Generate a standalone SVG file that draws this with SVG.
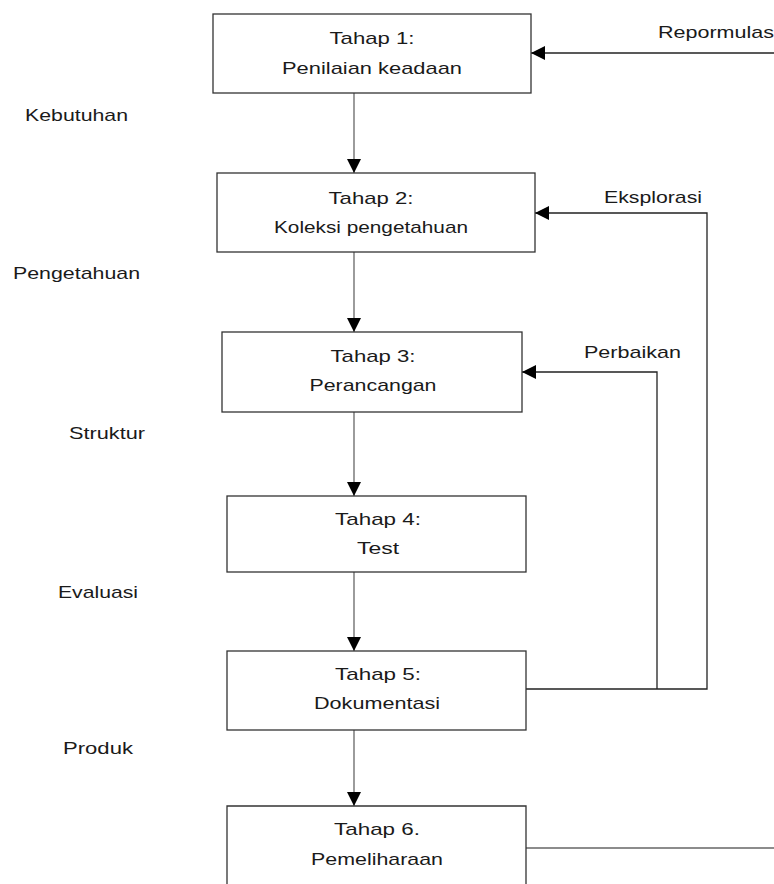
<svg xmlns="http://www.w3.org/2000/svg" width="774" height="884" viewBox="0 0 774 884">
<style>
.box{fill:#fff;stroke:#333;stroke-width:1.3}
.t{font-family:"Liberation Sans",Arial,sans-serif;font-size:17px;fill:#1a1a1a}
.m{text-anchor:middle}
.flow{fill:none;stroke:#666;stroke-width:1.3}
.fb{fill:none;stroke:#222;stroke-width:1.3}
</style>
<defs>
<marker id="ah" viewBox="0 0 14 14" refX="14" refY="7" markerWidth="14" markerHeight="14" markerUnits="userSpaceOnUse" orient="auto">
<path d="M0,0 L14,7 L0,14 Z" fill="#000"/>
</marker>
</defs>
<rect width="774" height="884" fill="#fff"/>
<g id="connectors">
<line class="flow" x1="354" y1="93" x2="354" y2="173" marker-end="url(#ah)"/>
<line class="flow" x1="354" y1="252" x2="354" y2="332" marker-end="url(#ah)"/>
<line class="flow" x1="354" y1="412" x2="354" y2="496" marker-end="url(#ah)"/>
<line class="flow" x1="354" y1="572" x2="354" y2="651" marker-end="url(#ah)"/>
<line class="flow" x1="354" y1="730" x2="354" y2="806" marker-end="url(#ah)"/>
<line class="fb" x1="774" y1="53" x2="531" y2="53" marker-end="url(#ah)"/>
<polyline class="fb" points="526,689 707,689 707,213 535,213" marker-end="url(#ah)"/>
<polyline class="fb" points="657,689 657,372 522,372" marker-end="url(#ah)"/>
<line class="flow" x1="526" y1="848" x2="774" y2="848"/>
</g>
<g id="node1">
<rect class="box" x="213" y="14" width="318" height="79"/>
<text class="t m" x="372" y="44" textLength="85" lengthAdjust="spacingAndGlyphs">Tahap 1:</text>
<text class="t m" x="372" y="74" textLength="180" lengthAdjust="spacingAndGlyphs">Penilaian keadaan</text>
</g>
<g id="node2">
<rect class="box" x="217" y="173" width="318" height="79"/>
<text class="t m" x="371" y="204" textLength="85" lengthAdjust="spacingAndGlyphs">Tahap 2:</text>
<text class="t m" x="371" y="233" textLength="194" lengthAdjust="spacingAndGlyphs">Koleksi pengetahuan</text>
</g>
<g id="node3">
<rect class="box" x="222" y="332" width="300" height="80"/>
<text class="t m" x="373" y="362" textLength="85" lengthAdjust="spacingAndGlyphs">Tahap 3:</text>
<text class="t m" x="373" y="391" textLength="127" lengthAdjust="spacingAndGlyphs">Perancangan</text>
</g>
<g id="node4">
<rect class="box" x="227" y="496" width="299" height="76"/>
<text class="t m" x="378" y="525" textLength="86" lengthAdjust="spacingAndGlyphs">Tahap 4:</text>
<text class="t m" x="378" y="554" textLength="42" lengthAdjust="spacingAndGlyphs">Test</text>
</g>
<g id="node5">
<rect class="box" x="227" y="651" width="299" height="79"/>
<text class="t m" x="378" y="680" textLength="86" lengthAdjust="spacingAndGlyphs">Tahap 5:</text>
<text class="t m" x="377" y="709" textLength="126" lengthAdjust="spacingAndGlyphs">Dokumentasi</text>
</g>
<g id="node6">
<path class="box" d="M227,884 L227,806 L526,806 L526,884"/>
<text class="t m" x="377" y="835" textLength="86" lengthAdjust="spacingAndGlyphs">Tahap 6.</text>
<text class="t m" x="377" y="865" textLength="132" lengthAdjust="spacingAndGlyphs">Pemeliharaan</text>
</g>
<g id="labels">
<text class="t" x="658" y="38" textLength="116" lengthAdjust="spacingAndGlyphs">Repormulas</text>
<text class="t" x="604" y="203" textLength="98" lengthAdjust="spacingAndGlyphs">Eksplorasi</text>
<text class="t" x="584" y="358" textLength="97" lengthAdjust="spacingAndGlyphs">Perbaikan</text>
<text class="t" x="25" y="121" textLength="103" lengthAdjust="spacingAndGlyphs">Kebutuhan</text>
<text class="t" x="13" y="279" textLength="127" lengthAdjust="spacingAndGlyphs">Pengetahuan</text>
<text class="t" x="69" y="439" textLength="76" lengthAdjust="spacingAndGlyphs">Struktur</text>
<text class="t" x="58" y="598" textLength="80" lengthAdjust="spacingAndGlyphs">Evaluasi</text>
<text class="t" x="63" y="754" textLength="70" lengthAdjust="spacingAndGlyphs">Produk</text>
</g>
</svg>
